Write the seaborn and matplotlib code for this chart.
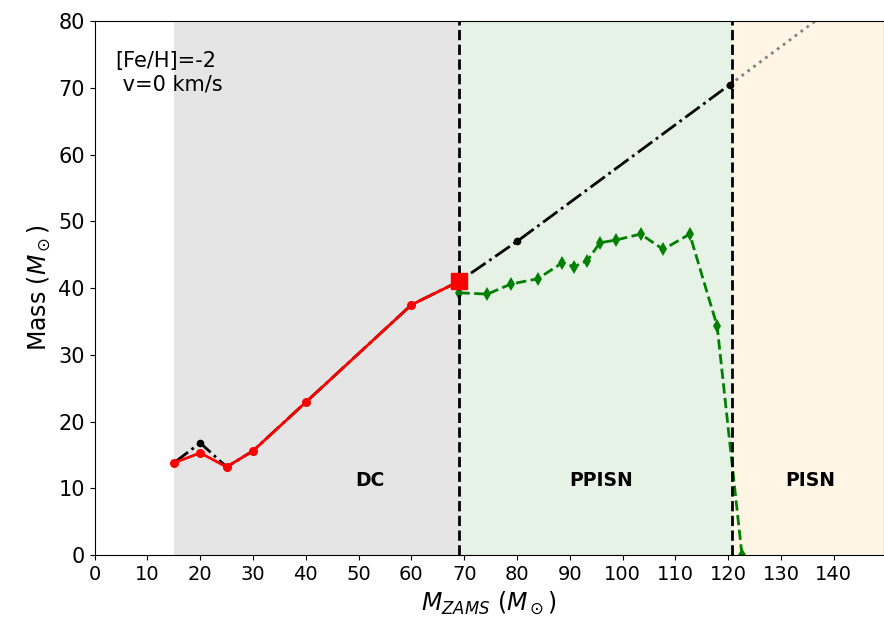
import matplotlib
matplotlib.use("Agg")
import matplotlib.pyplot as plt
import seaborn as sns

# --- dane ---
# masa resztki (gałąź DC), ostatni punkt = granica DC/PPISN
REMNANT_MZAMS = [15, 20, 25, 30, 40, 60, 69]
REMNANT_MASS = [13.8, 15.3, 13.2, 15.6, 22.9, 37.5, 41.0]

# masa przed wybuchem
PRESN_MZAMS = [15, 20, 25, 30, 40, 60, 69, 80, 120.3]
PRESN_MASS = [13.8, 16.8, 13.2, 15.6, 22.9, 37.5, 41.0, 47.0, 70.5]

# ekstrapolacja w obszarze PISN
EXTRAP_MZAMS = [120.3, 150]
EXTRAP_MASS = [70.5, 88.0]

# masa resztki po pulsacjach (PPISN)
PPISN_MZAMS = [69.1, 74.4, 78.8, 83.9, 88.6, 90.8, 93.3, 95.7, 98.7,
               103.4, 107.7, 112.7, 117.9, 122.6]
PPISN_MASS = [39.3, 39.1, 40.6, 41.4, 43.8, 43.2, 44.1, 46.8, 47.2,
              48.1, 45.8, 48.1, 34.3, 0.0]

# granice obszarów
REGION_NAMES = ["DC", "PPISN", "PISN"]
REGION_EDGES = [15, 69, 120.8, 150]
REGION_COLORS = [("gray", 0.2), ("green", 0.1), ("orange", 0.1)]
REGION_LABEL_X = [52.2, 96.0, 135.5]
REGION_LABEL_Y = 11.1

sns.set_style("ticks")
plt.rcParams["font.family"] = ["DejaVu Sans"]

fig = plt.figure(figsize=(8.84, 6.25), dpi=100)
ax = fig.add_axes([0.107, 0.112, 0.893, 0.854])

for i, name in enumerate(REGION_NAMES):
    col, alpha = REGION_COLORS[i]
    ax.axvspan(REGION_EDGES[i], REGION_EDGES[i + 1], color=col, alpha=alpha, lw=0)
    ax.text(REGION_LABEL_X[i], REGION_LABEL_Y, name, ha="center", va="center",
            fontsize=13.5, fontweight="bold", color="black")

sns.lineplot(x=EXTRAP_MZAMS, y=EXTRAP_MASS, ax=ax, color="gray", linestyle=":",
             lw=2, sort=False, estimator=None)
sns.lineplot(x=PRESN_MZAMS, y=PRESN_MASS, ax=ax, color="black", linestyle="-.",
             lw=2, marker="o", markersize=5.5, markeredgewidth=0, sort=False,
             estimator=None)
sns.lineplot(x=PPISN_MZAMS, y=PPISN_MASS, ax=ax, color="green", linestyle="--",
             lw=2, marker="d", markersize=7.5, markeredgewidth=0, sort=False,
             estimator=None)
sns.lineplot(x=REMNANT_MZAMS, y=REMNANT_MASS, ax=ax, color="red", lw=2,
             marker="o", markersize=6.5, markeredgewidth=0, sort=False,
             estimator=None, markevery=list(range(len(REMNANT_MZAMS) - 1)))
ax.plot(REMNANT_MZAMS[-1:], REMNANT_MASS[-1:], "s", color="red", markersize=12,
        zorder=5)

for edge in REGION_EDGES[1:3]:
    ax.axvline(edge, color="black", linestyle="--", lw=2)

ax.text(4, 75.5, "[Fe/H]=-2\n v=0 km/s", fontsize=15, va="top", ha="left",
        color="black")

ax.set_xlim(0, 149.5)
ax.set_ylim(0, 80)
ax.set_xticks(range(0, 141, 10))
ax.set_yticks(range(0, 81, 10))
ax.tick_params(axis="x", labelsize=14, colors="black")
ax.tick_params(axis="y", labelsize=15, colors="black")
ax.set_xlabel(r"$M_{ZAMS}$ ($M_\odot$)", fontsize=17, color="black")
ax.set_ylabel(r"Mass ($M_\odot$)", fontsize=17, color="black")
for sp in ax.spines.values():
    sp.set_color("black")

plt.savefig("out.png", dpi=100)
plt.close()
